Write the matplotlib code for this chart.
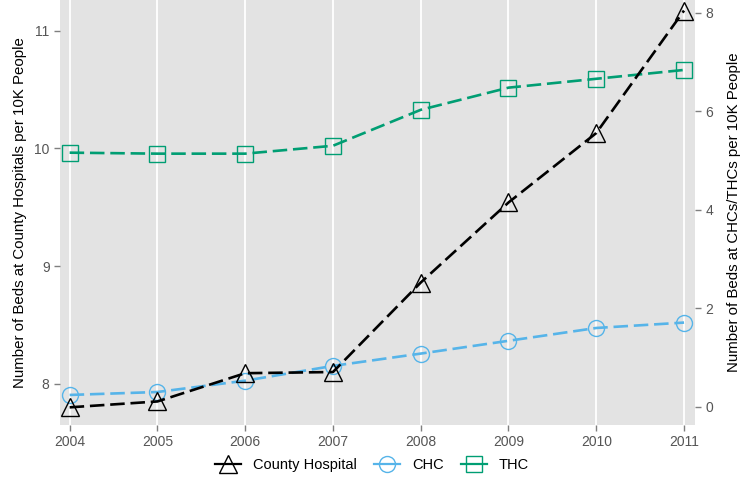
import matplotlib as mpl
mpl.use('Agg')
import matplotlib.pyplot as plt
from matplotlib.lines import Line2D

years = [2004, 2005, 2006, 2007, 2008, 2009, 2010, 2011]
county = [7.80, 7.85, 8.09, 8.10, 8.86, 9.54, 10.13, 11.17]
chc = [0.24, 0.30, 0.53, 0.83, 1.08, 1.34, 1.60, 1.71]
thc = [5.16, 5.14, 5.14, 5.30, 6.03, 6.48, 6.66, 6.84]

plt.rcParams['font.family'] = ['Liberation Sans', 'DejaVu Sans']

black = '#000000'
blue = '#56B4E9'
green = '#009E73'
grey_txt = '#555555'
panel = '#E3E3E3'
dash = (5.5, 2.2)
lw = 1.9

fig = plt.figure(figsize=(7.44, 4.82), dpi=100)
ax = fig.add_axes([60/744, 1 - 425/482, 635/744, 425/482])
ax2 = ax.twinx()

# ax2 (right axis) holds the background and CHC/THC lines,
# ax (left axis) sits on top with the county hospital line
ax.set_zorder(ax2.get_zorder() + 1)
ax.patch.set_visible(False)
ax2.patch.set_visible(True)
ax2.patch.set_facecolor(panel)
for yr in years:
    ax2.axvline(yr, color='white', lw=1.3, zorder=0)

ax2.plot(years, chc, color=blue, lw=lw, dashes=dash, marker='o',
         ms=11.5, mfc='none', mec=blue, mew=1)
ax2.plot(years, thc, color=green, lw=lw, dashes=dash, marker='s',
         ms=11.5, mfc='none', mec=green, mew=1)
ax.plot(years, county, color=black, lw=lw, dashes=dash, marker='^',
        ms=12.5, mfc='none', mec=black, mew=1)

ax.set_xlim(2003.89, 2011.125)
ax.set_ylim(7.65, 11.26)
ax2.set_ylim(-0.37, 8.26)
ax.set_xticks(years)
ax.set_yticks([8, 9, 10, 11])
ax2.set_yticks([0, 2, 4, 6, 8])

for a in (ax, ax2):
    for s in a.spines.values():
        s.set_visible(False)
    a.tick_params(colors='#7F7F7F', labelcolor=grey_txt, labelsize=10,
                  length=4, width=1, direction='out')

ax.set_ylabel('Number of Beds at County Hospitals per 10K People',
              fontsize=10.8, color='black', labelpad=5)
ax2.set_ylabel('Number of Beds at CHCs/THCs per 10K People',
               fontsize=10.8, color='black', labelpad=10)

handles = [
    Line2D([], [], color=black, lw=1.6, marker='^', ms=12.5, mfc='none', mec=black),
    Line2D([], [], color=blue, lw=1.6, marker='o', ms=11.5, mfc='none', mec=blue),
    Line2D([], [], color=green, lw=1.6, marker='s', ms=11.5, mfc='none', mec=green),
]
fig.legend(handles, ['County Hospital', 'CHC', 'THC'], loc='center',
           bbox_to_anchor=(0.5, 1 - 465/482), ncol=3, frameon=False,
           fontsize=10.5, handlelength=1.8, columnspacing=1.2, handletextpad=0.8)

fig.savefig('out.png', dpi=100)
